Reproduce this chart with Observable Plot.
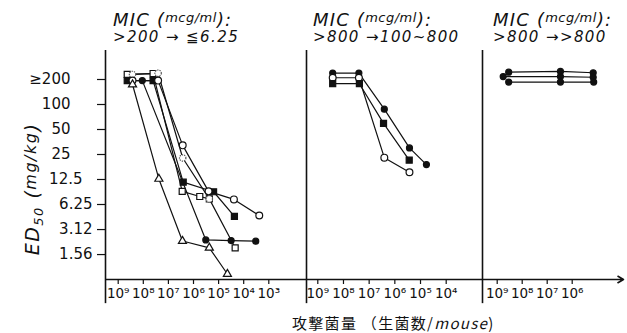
<!DOCTYPE html>
<html><head><meta charset="utf-8">
<script src="https://cdn.jsdelivr.net/npm/d3@7"></script>
<script src="https://cdn.jsdelivr.net/npm/@observablehq/plot@0.6"></script>
<style>
body{margin:0;background:#fff;}
#wrap{position:relative;width:627px;height:333px;overflow:hidden;background:#fff;color:#111;font-family:"DejaVu Sans",sans-serif;}
.t1{position:absolute;top:11px;font-style:italic;font-size:18px;line-height:18px;letter-spacing:1.2px;white-space:nowrap;}
.t1 .s{font-size:13px;vertical-align:4px;letter-spacing:0.5px;line-height:13px;}
.t2{position:absolute;top:30px;font-style:italic;font-size:15px;line-height:15px;letter-spacing:1.4px;white-space:nowrap;}
.pan{position:absolute;top:45px;}
#ylab{position:absolute;left:32px;top:189px;transform:translate(-50%,-50%) rotate(-90deg);font-style:italic;font-size:19px;letter-spacing:1.5px;white-space:nowrap;}
#ylab .sub{font-size:13px;position:relative;top:4px;}
#ylab .sm{font-size:16px;position:relative;top:-3px;}
#xlab{position:absolute;left:292px;top:314px;line-height:17px;font-family:"Noto Sans CJK JP",sans-serif;font-size:15px;letter-spacing:1.3px;white-space:nowrap;}
</style></head><body><div id="wrap"></div>
<script>
// ---- data (x = log10 of inoculum size, viable cells/mouse; y = ED50 mg/kg) ----
const yTicks = [200, 100, 50, 25, 12.5, 6.25, 3.12, 1.56];
const yTickLabels = ["≥200", "100", "50", "25", "12.5", "6.25", "3.12", "1.56"];
const xTicks1 = [9, 8, 7, 6, 5, 4, 3];
const xTicks2 = [9, 8, 7, 6, 5, 4];
const xTicks3 = [9, 8, 7, 6];
const titleLine1 = "MIC (", titleUnit = "mcg/ml", titleEnd = "):";
const titleLine2 = [">200 → ≦6.25", ">800 →100~800", ">800 →>800"];
const yTitle = ["ED", "50", " (", "mg/kg", ")"];
const xTitle = ["攻撃菌量 （生菌数/", "mouse", ")"];

// Panel 1: MIC >200 -> <=6.25
const p1OpenSquare   = [[8.64,230],[7.61,236],[6.45,9.0],[5.75,7.8],[5.37,7.3],[4.34,1.88]];
const p1DottedCircle = [[8.43,230],[7.41,238],[6.43,22.7],[5.37,7.3]];
const p1FilledSquare = [[8.64,194],[7.61,194],[6.41,11.6],[5.20,8.9],[4.37,4.5]];
const p1OpenCircle   = [[8.43,194],[7.41,194],[6.43,32.2],[5.40,9.0],[4.39,7.2],[3.38,4.6]];
const p1Triangle     = [[8.43,174],[7.38,12.7],[6.44,2.27],[5.37,1.88],[4.65,0.91]];
const p1FilledCircle = [[8.04,194],[5.51,2.34],[4.50,2.30],[3.52,2.26]];
// Panel 2: MIC >800 -> 100~800
const p2FilledCircle = [[8.42,239],[7.40,239],[6.41,87.8],[5.43,30.0],[4.77,18.9]];
const p2OpenCircle   = [[8.42,210],[7.40,210],[6.41,22.9],[5.43,15.3]];
const p2FilledSquare = [[8.42,178],[7.38,178],[6.44,59.3],[5.44,21.4]];
// Panel 3: MIC >800 -> >800
const p3Top = [[8.54,245],[6.47,250],[5.16,241]];
const p3Mid = [[8.76,217],[6.47,217],[5.16,213]];
const p3Bot = [[8.54,186],[6.47,186],[5.14,186]];

// ---- styles ----
const ink = "#111";
const look = {
  openSquare:   {symbol:"square",   fill:"white", stroke:ink, r:3.4},
  dottedCircle: {symbol:"circle",   fill:"white", stroke:"#555", r:3.2, strokeDasharray:"1.3,1"},
  filledSquare: {symbol:"square",   fill:ink,     stroke:ink, r:3.4},
  openCircle:   {symbol:"circle",   fill:"white", stroke:ink, r:3.4},
  triangle:     {symbol:"triangle", fill:"white", stroke:ink, r:3.0},
  filledCircle: {symbol:"circle",   fill:ink,     stroke:ink, r:3.0}
};
const yDomain = [0.78125, 446.9];
const fmtX = d => "10" + "⁰¹²³⁴⁵⁶⁷⁸⁹"[d];
const fmtY = d => yTickLabels[yTicks.indexOf(d)];

function panel({width, marginLeft, xDomain, ticks, series, yAxis, arrowTo}) {
  const marks = [];
  marks.push(Plot.ruleX([xDomain[0]], {y1: 0.4, y2: yDomain[1], stroke: ink, strokeWidth: 1.6}));
  if (arrowTo != null) {
    marks.push(Plot.arrow([0], {x1: xDomain[0], x2: arrowTo, y1: yDomain[0], y2: yDomain[0], stroke: ink, strokeWidth: 1.6, headLength: 6}));
  } else {
    marks.push(Plot.ruleY([yDomain[0]], {stroke: ink, strokeWidth: 1.6}));
  }
  marks.push(Plot.axisX({ticks, tickFormat: fmtX, tickSize: 5, tickPadding: 4, fontSize: 13.5, strokeWidth: 1.2, label: null}));
  if (yAxis) {
    marks.push(Plot.axisY({ticks: yTicks.slice(0,4), tickFormat: fmtY, tickSize: 8, tickPadding: 27, fontSize: 15, strokeWidth: 1.2, label: null}));
    marks.push(Plot.axisY({ticks: yTicks.slice(4,5), tickFormat: fmtY, tickSize: 8, tickPadding: 15, fontSize: 15, strokeWidth: 1.2, label: null}));
    marks.push(Plot.axisY({ticks: yTicks.slice(5), tickFormat: fmtY, tickSize: 8, tickPadding: 5, fontSize: 15, strokeWidth: 1.2, label: null}));
  }
  for (const [key, pts] of series) {
    const rows = pts.map(([n, v]) => ({n, v}));
    marks.push(Plot.line(rows, {x: "n", y: "v", stroke: ink, strokeWidth: 1.2}));
  }
  for (const [key, pts] of series) {
    const rows = pts.map(([n, v]) => ({n, v}));
    const L = look[key];
    marks.push(Plot.dot(rows, {x: "n", y: "v", symbol: L.symbol, r: L.r, fill: L.fill, stroke: L.stroke, strokeWidth: 1.2, strokeDasharray: L.strokeDasharray}));
  }
  return Plot.plot({
    width, height: 260, marginTop: 5, marginBottom: 26, marginLeft, marginRight: 0,
    x: {type: "linear", domain: xDomain, axis: null, label: null},
    y: {type: "log", base: 2, domain: yDomain, axis: null, label: null},
    style: {fontFamily: '"DejaVu Sans", sans-serif', color: ink, background: "transparent", overflow: "visible"},
    marks
  });
}

const wrap = document.getElementById("wrap");
function place(svg, left) {
  svg.classList.add("pan");
  svg.style.left = left + "px";
  wrap.appendChild(svg);
}
place(panel({width: 306, marginLeft: 105, xDomain: [9.506, 1.498], ticks: xTicks1, yAxis: true,
  series: [["openSquare", p1OpenSquare], ["dottedCircle", p1DottedCircle], ["filledSquare", p1FilledSquare],
           ["openCircle", p1OpenCircle], ["triangle", p1Triangle], ["filledCircle", p1FilledCircle]]}), 0);
place(panel({width: 182, marginLeft: 6, xDomain: [9.44, 2.586], ticks: xTicks2,
  series: [["filledCircle", p2FilledCircle], ["openCircle", p2OpenCircle], ["filledSquare", p2FilledSquare]]}), 300);
place(panel({width: 151, marginLeft: 6, xDomain: [9.588, 3.788], ticks: xTicks3, arrowTo: 3.948,
  series: [["filledCircle", p3Top], ["filledCircle", p3Mid], ["filledCircle", p3Bot]]}), 476);

// titles
const titleLeft = [113, 313, 493];
titleLeft.forEach((x, i) => {
  const a = document.createElement("div");
  a.className = "t1"; a.style.left = x + "px";
  a.innerHTML = titleLine1 + '<span class="s">' + titleUnit + '</span>' + titleEnd;
  wrap.appendChild(a);
  const b = document.createElement("div");
  b.className = "t2"; b.style.left = x + "px";
  b.textContent = titleLine2[i];
  wrap.appendChild(b);
});
const yl = document.createElement("div");
yl.id = "ylab";
yl.innerHTML = yTitle[0] + '<span class="sub">' + yTitle[1] + '</span>' + yTitle[2] + '<span class="sm">' + yTitle[3] + '</span>' + yTitle[4];
wrap.appendChild(yl);
const xl = document.createElement("div");
xl.id = "xlab";
xl.innerHTML = xTitle[0] + '<i>' + xTitle[1] + '</i>' + xTitle[2];
wrap.appendChild(xl);
</script></body></html>
